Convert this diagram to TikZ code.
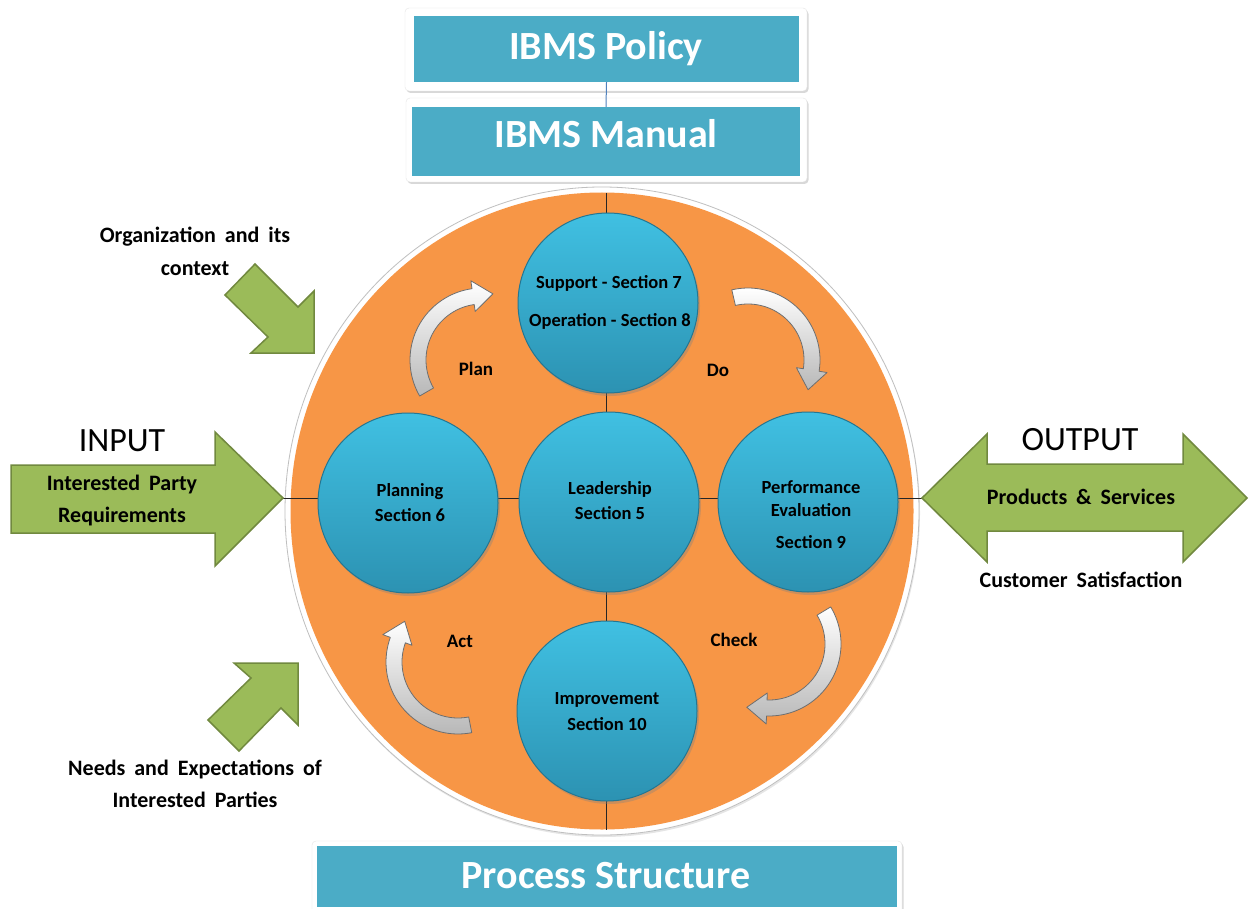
\documentclass[tikz,border=0pt]{standalone}
\usepackage{fontspec}
\setmainfont{Carlito}
\newfontfamily\widefont[WordSpace=1.8]{Carlito}
\usetikzlibrary{shadows,shapes.geometric}
\definecolor{boxblue}{RGB}{75,172,198}
\definecolor{ringorange}{RGB}{247,150,70}
\definecolor{leafgreen}{RGB}{155,187,89}
\definecolor{leafedge}{RGB}{113,137,63}
\definecolor{ballhi}{RGB}{64,192,226}
\definecolor{balllo}{RGB}{44,146,178}
\definecolor{balledge}{RGB}{36,118,146}
\definecolor{linkblue}{RGB}{79,129,189}
\definecolor{bentedge}{RGB}{110,110,110}
\newcommand{\myfs}[1]{\fontsize{#1}{#1}\selectfont}
\newcommand{\bentarrow}[5]{%
  \pgfmathsetmacro{\bro}{#5+8}%
  \pgfmathsetmacro{\bri}{#5-8}%
  \pgfmathsetmacro{\bho}{#5+16}%
  \pgfmathsetmacro{\bhi}{#5-15}%
  \path[bentstyle] plot[domain=#3:#4,samples=40] ({#1+\bro*cos(\x)},{#2+\bro*sin(\x)})
    -- ({#1+\bho*cos(#4)},{#2+\bho*sin(#4)})
    -- ({#1+#5*cos(#4)-20*sin(#4)},{#2+#5*sin(#4)+20*cos(#4)})
    -- ({#1+\bhi*cos(#4)},{#2+\bhi*sin(#4)})
    -- plot[domain=#4:#3,samples=40] ({#1+\bri*cos(\x)},{#2+\bri*sin(\x)})
    -- cycle;}
\tikzset{
  bentstyle/.style={draw=bentedge, line width=0.8pt, line join=round, top color=white, bottom color=black!28},
  framebox/.style={rectangle, rounded corners=4pt, fill=white, draw=black!10, inner sep=0pt,
     drop shadow={opacity=0.3, shadow xshift=1.5pt, shadow yshift=-2pt}},
  titlebox/.style={rectangle, fill=boxblue, inner sep=0pt},
  ball/.style={circle, minimum size=180pt, inner sep=0pt, draw=balledge, line width=1pt,
     top color=ballhi, bottom color=balllo,
     drop shadow={opacity=0.35, shadow xshift=2pt, shadow yshift=-3pt}},
  leaf/.style={fill=leafgreen, draw=leafedge, line width=1.5pt, line join=miter},
  axisline/.style={draw=black!85, line width=0.9pt},
  balltext/.style={font=\bfseries\myfs{18.5}, anchor=base, inner sep=0pt, text=black},
  cyclabel/.style={font=\bfseries\myfs{19}, anchor=base, inner sep=0pt, text=black},
  sidelabel/.style={font=\widefont\bfseries\myfs{22}, anchor=base, inner sep=0pt, text=black},
  bigword/.style={font=\myfs{34}, anchor=base, inner sep=0pt, text=black},
  titletext/.style={font=\bfseries\myfs{40}, anchor=base, inner sep=0pt, text=white},
}
\begin{document}
\begin{tikzpicture}[x=1pt,y=-1pt]
\useasboundingbox (0,0) rectangle (1249,909);
\fill[white] (0,0) rectangle (1249,909);

% ring
\node[ellipse, minimum width=634pt, minimum height=648pt, inner sep=0pt, fill=white, draw=black!25, line width=0.8pt,
  drop shadow={opacity=0.2, shadow xshift=1pt, shadow yshift=-2pt}] (ringrim) at (602,511) {};
\node[ellipse, minimum width=623pt, minimum height=637pt, inner sep=0pt, fill=ringorange] (ring) at (602,511) {};

% axes
\coordinate (intip) at (283,498);
\coordinate (outtip) at (922,498);
\coordinate (ringtop) at (606,193);
\coordinate (ringbot) at (606,830);
\draw[axisline] (intip) -- (outtip);
\draw[axisline] (ringtop) -- (ringbot);

% balls
\node[ball] (supportc) at (608,303) {};
\node[ball] (planc) at (408,503) {};
\node[ball] (leadc) at (609,502) {};
\node[ball] (perfc) at (808,502) {};
\node[ball] (improvc) at (607,711) {};

\node[balltext] (t1) at (609,288) {Support - Section 7};
\node[balltext] (t2) at (610,326) {Operation - Section 8};
\node[balltext] (t3) at (410,496) {Planning};
\node[balltext] (t4) at (410,521) {Section 6};
\node[balltext] (t5) at (610,494) {Leadership};
\node[balltext] (t6) at (610,519) {Section 5};
\node[balltext] (t7) at (811,493) {Performance};
\node[balltext] (t8) at (811,516) {Evaluation};
\node[balltext] (t9) at (811,548) {Section 9};
\node[balltext] (t10) at (607,704) {Improvement};
\node[balltext] (t11) at (607,730) {Section 10};

% cycle arrows
\bentarrow{482}{360}{150}{262}{64}
\bentarrow{748}{360}{257}{369}{64}
\bentarrow{769}{644}{329}{452}{64}
\bentarrow{458}{662}{79}{200}{64}

\node[cyclabel] (lplan) at (476,375) {Plan};
\node[cyclabel] (ldo) at (718,376) {Do};
\node[cyclabel] (lact) at (460,647) {Act};
\node[cyclabel] (lcheck) at (734,646) {Check};

% green arrows
\path[leaf] (11,465) -- (215,465) -- (215,432) -- (283,498) -- (215,566) -- (215,533) -- (11,533) -- cycle;
\path[leaf] (922,498) -- (987,434) -- (987,464) -- (1183,464) -- (1183,434) -- (1247,498) -- (1183,562) -- (1183,531) -- (987,531) -- (987,562) -- cycle;
\path[leaf] (255,264) -- (298,307) -- (314,291) -- (314,353) -- (251,353) -- (268,337) -- (225,295) -- cycle;
\path[leaf] (298,663) -- (234,663) -- (251,678) -- (208,720) -- (239,751) -- (281,708) -- (298,725) -- cycle;

\node[bigword] (inw) at (122,451) {INPUT};
\node[sidelabel] (in1) at (122,490) {Interested Party};
\node[sidelabel] (in2) at (122,522) {Requirements};
\node[bigword] (outw) at (1080,450) {OUTPUT};
\node[sidelabel] (out1) at (1081,504) {Products \& Services};
\node[sidelabel] (out2) at (1081,587) {Customer Satisfaction};
\node[sidelabel] (org1) at (195,243) {Organization and its};
\node[sidelabel] (org2) at (195,275) {context};
\node[sidelabel] (need1) at (195,775) {Needs and Expectations of};
\node[sidelabel] (need2) at (195,807) {Interested Parties};

% title boxes
\node[framebox, minimum width=402pt, minimum height=83pt] (policyframe) at (606,49.5) {};
\node[titlebox, minimum width=385pt, minimum height=66pt] (policy) at (606.5,49) {};
\node[framebox, minimum width=401pt, minimum height=84pt] (manualframe) at (606.5,140) {};
\node[titlebox, minimum width=388pt, minimum height=69pt] (manual) at (606,141.5) {};
\draw[linkblue, line width=1pt] (policy.south) -- (manual.north);
\node[titletext] (policyt) at (606,60) {IBMS Policy};
\node[titletext] (manualt) at (606,148) {IBMS Manual};

\node[framebox, minimum width=590pt, minimum height=74pt] (procframe) at (607,878) {};
\node[titlebox, minimum width=580pt, minimum height=61pt] (proc) at (607,876.5) {};
\node[titletext] (proct) at (606,888) {Process Structure};
\end{tikzpicture}
\end{document}
